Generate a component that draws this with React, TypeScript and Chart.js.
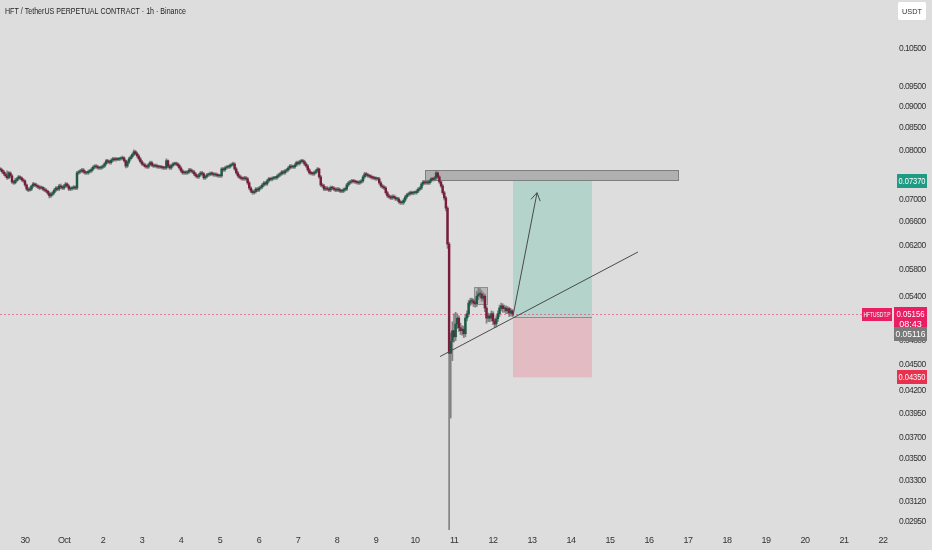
import React, { useEffect, useRef } from "react";
import { Chart, registerables } from "chart.js";

Chart.register(...registerables);

const TITLE = "HFT / TetherUS PERPETUAL CONTRACT · 1h · Binance";
const UNIT = "USDT";
const SYMBOL_TAG = "HFTUSDT.P";
const COUNTDOWN = "08:43";

// hourly candles; hours counted from 30 Sep 00:00 (first candle 29 Sep 09:00)
const START_HOUR = -15;

const OPEN = [
  0.0761, 0.0759, 0.0755, 0.0751, 0.0747, 0.0743, 0.0753, 0.0747, 0.0735, 0.0733,
  0.0738, 0.0741, 0.0745, 0.0743, 0.0739, 0.0737, 0.0729, 0.0721, 0.0719, 0.0721,
  0.0727, 0.0731, 0.0729, 0.0727, 0.0725, 0.0723, 0.0724, 0.0721, 0.0719, 0.0717,
  0.0713, 0.0708, 0.0711, 0.0714, 0.0719, 0.0723, 0.0721, 0.0727, 0.0725, 0.0723,
  0.0727, 0.0731, 0.0727, 0.0721, 0.0722, 0.0723, 0.0725, 0.0723, 0.0753, 0.0755,
  0.0757, 0.0759, 0.0755, 0.0753, 0.0753, 0.0756, 0.0757, 0.0761, 0.0765, 0.0767,
  0.0765, 0.0763, 0.0763, 0.0765, 0.0767, 0.0772, 0.0778, 0.0776, 0.0774, 0.0779,
  0.0782, 0.0780, 0.0782, 0.0781, 0.0782, 0.0783, 0.0784, 0.0778, 0.0767, 0.0775,
  0.0782, 0.0786, 0.0791, 0.0797, 0.0793, 0.0788, 0.0782, 0.0776, 0.0771, 0.0769,
  0.0766, 0.0765, 0.0770, 0.0774, 0.0769, 0.0767, 0.0768, 0.0766, 0.0765, 0.0765,
  0.0764, 0.0763, 0.0763, 0.0778, 0.0767, 0.0763, 0.0768, 0.0771, 0.0772, 0.0771,
  0.0768, 0.0763, 0.0757, 0.0753, 0.0754, 0.0753, 0.0755, 0.0759, 0.0757, 0.0755,
  0.0751, 0.0747, 0.0745, 0.0749, 0.0753, 0.0751, 0.0743, 0.0746, 0.0749, 0.0750,
  0.0752, 0.0751, 0.0749, 0.0750, 0.0748, 0.0747, 0.0747, 0.0761, 0.0759, 0.0763,
  0.0765, 0.0765, 0.0768, 0.0770, 0.0771, 0.0761, 0.0753, 0.0747, 0.0744, 0.0742,
  0.0741, 0.0743, 0.0741, 0.0733, 0.0723, 0.0717, 0.0714, 0.0716, 0.0721, 0.0719,
  0.0723, 0.0725, 0.0729, 0.0733, 0.0731, 0.0737, 0.0741, 0.0740, 0.0742, 0.0743,
  0.0743, 0.0746, 0.0749, 0.0751, 0.0755, 0.0753, 0.0757, 0.0759, 0.0763, 0.0767,
  0.0765, 0.0765, 0.0769, 0.0774, 0.0772, 0.0776, 0.0778, 0.0776, 0.0771, 0.0767,
  0.0759, 0.0753, 0.0752, 0.0751, 0.0754, 0.0757, 0.0761, 0.0745, 0.0729, 0.0727,
  0.0721, 0.0723, 0.0721, 0.0719, 0.0724, 0.0723, 0.0721, 0.0719, 0.0721, 0.0719,
  0.0717, 0.0717, 0.0720, 0.0721, 0.0729, 0.0733, 0.0735, 0.0737, 0.0736, 0.0735,
  0.0734, 0.0733, 0.0735, 0.0737, 0.0745, 0.0751, 0.0749, 0.0747, 0.0746, 0.0744,
  0.0743, 0.0742, 0.0741, 0.0741, 0.0733, 0.0727, 0.0725, 0.0723, 0.0714, 0.0708,
  0.0706, 0.0704, 0.0707, 0.0705, 0.0702, 0.0702, 0.0697, 0.0695, 0.0695, 0.0700,
  0.0706, 0.0710, 0.0712, 0.0714, 0.0713, 0.0714, 0.0714, 0.0717, 0.0721, 0.0723,
  0.0731, 0.0735, 0.0733, 0.0734, 0.0733, 0.0737, 0.0741, 0.0740, 0.0743, 0.0753,
  0.0745, 0.0735, 0.0727, 0.0714, 0.0704, 0.0685, 0.0622, 0.0464, 0.0479, 0.0493,
  0.0485, 0.0502, 0.0510, 0.0497, 0.0493, 0.0495, 0.0489, 0.0510, 0.0516, 0.0531,
  0.0534, 0.0534, 0.0531, 0.0530, 0.0541, 0.0544, 0.0544, 0.0538, 0.0541, 0.0524,
  0.0510, 0.0513, 0.0510, 0.0516, 0.0506, 0.0502, 0.0509, 0.0516, 0.0524, 0.0527,
  0.0523, 0.0524, 0.0520, 0.0523, 0.0517, 0.0520,
];

const HIGH = [
  0.0764, 0.0761, 0.0758, 0.0754, 0.0757, 0.0756, 0.0755, 0.0750, 0.0738, 0.0742,
  0.0744, 0.0748, 0.0747, 0.0745, 0.0742, 0.0739, 0.0731, 0.0724, 0.0725, 0.0729,
  0.0734, 0.0733, 0.0732, 0.0729, 0.0728, 0.0727, 0.0726, 0.0724, 0.0722, 0.0719,
  0.0716, 0.0714, 0.0717, 0.0722, 0.0726, 0.0726, 0.0730, 0.0731, 0.0728, 0.0730,
  0.0734, 0.0733, 0.0729, 0.0725, 0.0726, 0.0728, 0.0727, 0.0756, 0.0758, 0.0760,
  0.0762, 0.0762, 0.0758, 0.0756, 0.0759, 0.0760, 0.0764, 0.0768, 0.0770, 0.0770,
  0.0768, 0.0766, 0.0768, 0.0770, 0.0775, 0.0781, 0.0781, 0.0779, 0.0782, 0.0785,
  0.0785, 0.0785, 0.0784, 0.0785, 0.0786, 0.0788, 0.0786, 0.0780, 0.0778, 0.0785,
  0.0789, 0.0794, 0.0801, 0.0800, 0.0796, 0.0791, 0.0785, 0.0779, 0.0774, 0.0772,
  0.0769, 0.0773, 0.0777, 0.0777, 0.0772, 0.0771, 0.0771, 0.0769, 0.0768, 0.0768,
  0.0767, 0.0766, 0.0782, 0.0780, 0.0770, 0.0771, 0.0774, 0.0775, 0.0775, 0.0774,
  0.0771, 0.0766, 0.0760, 0.0757, 0.0757, 0.0758, 0.0762, 0.0762, 0.0760, 0.0758,
  0.0754, 0.0750, 0.0752, 0.0756, 0.0756, 0.0754, 0.0749, 0.0752, 0.0753, 0.0755,
  0.0755, 0.0754, 0.0753, 0.0753, 0.0751, 0.0750, 0.0764, 0.0764, 0.0766, 0.0768,
  0.0768, 0.0771, 0.0773, 0.0775, 0.0774, 0.0764, 0.0756, 0.0750, 0.0747, 0.0745,
  0.0746, 0.0746, 0.0744, 0.0736, 0.0726, 0.0720, 0.0719, 0.0724, 0.0724, 0.0726,
  0.0728, 0.0732, 0.0736, 0.0736, 0.0740, 0.0744, 0.0744, 0.0745, 0.0746, 0.0746,
  0.0749, 0.0752, 0.0754, 0.0758, 0.0758, 0.0760, 0.0762, 0.0766, 0.0770, 0.0770,
  0.0768, 0.0772, 0.0777, 0.0777, 0.0779, 0.0781, 0.0781, 0.0779, 0.0774, 0.0770,
  0.0762, 0.0756, 0.0755, 0.0757, 0.0760, 0.0764, 0.0763, 0.0748, 0.0732, 0.0730,
  0.0726, 0.0726, 0.0724, 0.0727, 0.0727, 0.0726, 0.0724, 0.0724, 0.0724, 0.0722,
  0.0720, 0.0723, 0.0724, 0.0732, 0.0736, 0.0738, 0.0740, 0.0740, 0.0739, 0.0738,
  0.0737, 0.0738, 0.0740, 0.0748, 0.0754, 0.0754, 0.0752, 0.0750, 0.0749, 0.0747,
  0.0746, 0.0745, 0.0744, 0.0744, 0.0736, 0.0730, 0.0728, 0.0726, 0.0717, 0.0711,
  0.0709, 0.0710, 0.0710, 0.0708, 0.0705, 0.0705, 0.0700, 0.0698, 0.0703, 0.0709,
  0.0713, 0.0715, 0.0717, 0.0717, 0.0717, 0.0717, 0.0720, 0.0724, 0.0726, 0.0734,
  0.0738, 0.0738, 0.0737, 0.0737, 0.0740, 0.0744, 0.0744, 0.0746, 0.0757, 0.0755,
  0.0748, 0.0738, 0.0730, 0.0717, 0.0707, 0.0688, 0.0625, 0.0490, 0.0505, 0.0516,
  0.0518, 0.0516, 0.0513, 0.0503, 0.0500, 0.0499, 0.0514, 0.0520, 0.0535, 0.0538,
  0.0538, 0.0537, 0.0536, 0.0548, 0.0553, 0.0552, 0.0549, 0.0546, 0.0544, 0.0527,
  0.0517, 0.0516, 0.0520, 0.0519, 0.0509, 0.0513, 0.0520, 0.0528, 0.0531, 0.0530,
  0.0528, 0.0527, 0.0526, 0.0525, 0.0523, 0.0522,
];

const LOW = [
  0.0756, 0.0752, 0.0748, 0.0744, 0.0740, 0.0741, 0.0744, 0.0732, 0.0730, 0.0731,
  0.0735, 0.0738, 0.0740, 0.0736, 0.0734, 0.0726, 0.0718, 0.0716, 0.0717, 0.0718,
  0.0724, 0.0726, 0.0724, 0.0722, 0.0720, 0.0721, 0.0718, 0.0716, 0.0714, 0.0710,
  0.0704, 0.0705, 0.0708, 0.0711, 0.0716, 0.0718, 0.0718, 0.0722, 0.0720, 0.0720,
  0.0724, 0.0724, 0.0718, 0.0718, 0.0719, 0.0720, 0.0720, 0.0720, 0.0750, 0.0752,
  0.0754, 0.0752, 0.0750, 0.0750, 0.0750, 0.0753, 0.0754, 0.0758, 0.0762, 0.0762,
  0.0760, 0.0760, 0.0760, 0.0762, 0.0764, 0.0769, 0.0773, 0.0771, 0.0771, 0.0776,
  0.0777, 0.0777, 0.0778, 0.0778, 0.0779, 0.0780, 0.0775, 0.0763, 0.0764, 0.0772,
  0.0779, 0.0783, 0.0788, 0.0790, 0.0785, 0.0779, 0.0773, 0.0768, 0.0766, 0.0763,
  0.0762, 0.0762, 0.0767, 0.0766, 0.0764, 0.0764, 0.0763, 0.0762, 0.0762, 0.0761,
  0.0760, 0.0760, 0.0760, 0.0764, 0.0760, 0.0760, 0.0765, 0.0768, 0.0768, 0.0765,
  0.0760, 0.0754, 0.0750, 0.0750, 0.0750, 0.0750, 0.0752, 0.0754, 0.0752, 0.0748,
  0.0744, 0.0742, 0.0742, 0.0746, 0.0748, 0.0740, 0.0740, 0.0743, 0.0746, 0.0747,
  0.0748, 0.0746, 0.0746, 0.0745, 0.0744, 0.0744, 0.0744, 0.0756, 0.0756, 0.0760,
  0.0762, 0.0762, 0.0765, 0.0767, 0.0758, 0.0750, 0.0744, 0.0741, 0.0739, 0.0738,
  0.0738, 0.0738, 0.0730, 0.0720, 0.0714, 0.0711, 0.0711, 0.0713, 0.0716, 0.0716,
  0.0720, 0.0722, 0.0726, 0.0728, 0.0728, 0.0734, 0.0737, 0.0737, 0.0739, 0.0740,
  0.0740, 0.0743, 0.0746, 0.0748, 0.0750, 0.0750, 0.0754, 0.0756, 0.0760, 0.0762,
  0.0762, 0.0762, 0.0766, 0.0769, 0.0769, 0.0773, 0.0773, 0.0768, 0.0764, 0.0756,
  0.0750, 0.0749, 0.0748, 0.0748, 0.0751, 0.0754, 0.0742, 0.0726, 0.0724, 0.0718,
  0.0718, 0.0718, 0.0716, 0.0716, 0.0720, 0.0718, 0.0716, 0.0716, 0.0716, 0.0714,
  0.0714, 0.0714, 0.0717, 0.0718, 0.0726, 0.0730, 0.0732, 0.0733, 0.0732, 0.0731,
  0.0730, 0.0730, 0.0732, 0.0734, 0.0742, 0.0746, 0.0744, 0.0743, 0.0741, 0.0740,
  0.0739, 0.0738, 0.0738, 0.0730, 0.0724, 0.0722, 0.0720, 0.0711, 0.0705, 0.0703,
  0.0701, 0.0701, 0.0702, 0.0699, 0.0699, 0.0694, 0.0692, 0.0692, 0.0692, 0.0697,
  0.0703, 0.0707, 0.0709, 0.0710, 0.0710, 0.0711, 0.0711, 0.0714, 0.0718, 0.0720,
  0.0728, 0.0730, 0.0730, 0.0730, 0.0730, 0.0734, 0.0737, 0.0737, 0.0740, 0.0742,
  0.0732, 0.0724, 0.0711, 0.0700, 0.0680, 0.0615, 0.0285, 0.0390, 0.0455, 0.0478,
  0.0480, 0.0496, 0.0492, 0.0488, 0.0487, 0.0484, 0.0485, 0.0506, 0.0512, 0.0527,
  0.0529, 0.0526, 0.0525, 0.0526, 0.0536, 0.0539, 0.0534, 0.0534, 0.0519, 0.0503,
  0.0505, 0.0505, 0.0506, 0.0501, 0.0497, 0.0498, 0.0505, 0.0512, 0.0520, 0.0518,
  0.0518, 0.0516, 0.0516, 0.0512, 0.0513, 0.0512,
];

const CLOSE = [
  0.0759, 0.0755, 0.0751, 0.0747, 0.0743, 0.0753, 0.0747, 0.0735, 0.0733, 0.0738,
  0.0741, 0.0745, 0.0743, 0.0739, 0.0737, 0.0729, 0.0721, 0.0719, 0.0721, 0.0727,
  0.0731, 0.0729, 0.0727, 0.0725, 0.0723, 0.0724, 0.0721, 0.0719, 0.0717, 0.0713,
  0.0708, 0.0711, 0.0714, 0.0719, 0.0723, 0.0721, 0.0727, 0.0725, 0.0723, 0.0727,
  0.0731, 0.0727, 0.0721, 0.0722, 0.0723, 0.0725, 0.0723, 0.0753, 0.0755, 0.0757,
  0.0759, 0.0755, 0.0753, 0.0753, 0.0756, 0.0757, 0.0761, 0.0765, 0.0767, 0.0765,
  0.0763, 0.0763, 0.0765, 0.0767, 0.0772, 0.0778, 0.0776, 0.0774, 0.0779, 0.0782,
  0.0780, 0.0782, 0.0781, 0.0782, 0.0783, 0.0784, 0.0778, 0.0767, 0.0775, 0.0782,
  0.0786, 0.0791, 0.0797, 0.0793, 0.0788, 0.0782, 0.0776, 0.0771, 0.0769, 0.0766,
  0.0765, 0.0770, 0.0774, 0.0769, 0.0767, 0.0768, 0.0766, 0.0765, 0.0765, 0.0764,
  0.0763, 0.0763, 0.0778, 0.0767, 0.0763, 0.0768, 0.0771, 0.0772, 0.0771, 0.0768,
  0.0763, 0.0757, 0.0753, 0.0754, 0.0753, 0.0755, 0.0759, 0.0757, 0.0755, 0.0751,
  0.0747, 0.0745, 0.0749, 0.0753, 0.0751, 0.0743, 0.0746, 0.0749, 0.0750, 0.0752,
  0.0751, 0.0749, 0.0750, 0.0748, 0.0747, 0.0747, 0.0761, 0.0759, 0.0763, 0.0765,
  0.0765, 0.0768, 0.0770, 0.0771, 0.0761, 0.0753, 0.0747, 0.0744, 0.0742, 0.0741,
  0.0743, 0.0741, 0.0733, 0.0723, 0.0717, 0.0714, 0.0716, 0.0721, 0.0719, 0.0723,
  0.0725, 0.0729, 0.0733, 0.0731, 0.0737, 0.0741, 0.0740, 0.0742, 0.0743, 0.0743,
  0.0746, 0.0749, 0.0751, 0.0755, 0.0753, 0.0757, 0.0759, 0.0763, 0.0767, 0.0765,
  0.0765, 0.0769, 0.0774, 0.0772, 0.0776, 0.0778, 0.0776, 0.0771, 0.0767, 0.0759,
  0.0753, 0.0752, 0.0751, 0.0754, 0.0757, 0.0761, 0.0745, 0.0729, 0.0727, 0.0721,
  0.0723, 0.0721, 0.0719, 0.0724, 0.0723, 0.0721, 0.0719, 0.0721, 0.0719, 0.0717,
  0.0717, 0.0720, 0.0721, 0.0729, 0.0733, 0.0735, 0.0737, 0.0736, 0.0735, 0.0734,
  0.0733, 0.0735, 0.0737, 0.0745, 0.0751, 0.0749, 0.0747, 0.0746, 0.0744, 0.0743,
  0.0742, 0.0741, 0.0741, 0.0733, 0.0727, 0.0725, 0.0723, 0.0714, 0.0708, 0.0706,
  0.0704, 0.0707, 0.0705, 0.0702, 0.0702, 0.0697, 0.0695, 0.0695, 0.0700, 0.0706,
  0.0710, 0.0712, 0.0714, 0.0713, 0.0714, 0.0714, 0.0717, 0.0721, 0.0723, 0.0731,
  0.0735, 0.0733, 0.0734, 0.0733, 0.0737, 0.0741, 0.0740, 0.0743, 0.0753, 0.0745,
  0.0735, 0.0727, 0.0714, 0.0704, 0.0685, 0.0622, 0.0464, 0.0479, 0.0493, 0.0485,
  0.0502, 0.0510, 0.0497, 0.0493, 0.0495, 0.0489, 0.0510, 0.0516, 0.0531, 0.0534,
  0.0534, 0.0531, 0.0530, 0.0541, 0.0544, 0.0544, 0.0538, 0.0541, 0.0524, 0.0510,
  0.0513, 0.0510, 0.0516, 0.0506, 0.0502, 0.0509, 0.0516, 0.0524, 0.0527, 0.0523,
  0.0524, 0.0520, 0.0523, 0.0517, 0.0520, 0.05156,
];

// time axis labels, one per day starting 30 Sep (hour 0, 24, 48, ...)
const DAY_LABELS = ["30", "Oct", "2", "3", "4", "5", "6", "7", "8", "9", "10", "11", "12", "13", "14", "15", "16", "17", "18", "19", "20", "21", "22"];
const PRICE_TICKS = [0.105, 0.095, 0.09, 0.085, 0.08, 0.07, 0.066, 0.062, 0.058, 0.054, 0.048, 0.045, 0.042, 0.0395, 0.037, 0.035, 0.033, 0.0312, 0.0295];
const X_RANGE = [-15.385, 532.3];
const Y_RANGE = [0.02888, 0.11975];

// drawings: [fromHour, toHour, lowPrice, highPrice]
const RESISTANCE_ZONE = [246.2, 401.8, 0.0737, 0.0758];
const TARGET_ZONE = [300.3, 348.9, 0.05116, 0.0737];
const STOP_ZONE = [300.3, 348.9, 0.0435, 0.05116];
const TOP_MARK = [276.3, 284.3, 0.053, 0.0554];
// lines: [hour1, price1, hour2, price2]
const TRENDLINE = [255.4, 0.046, 377.2, 0.0609];
const ARROW = [300.3, 0.0513, 315.1, 0.0714];

const LAST_PRICE = 0.05156;
const ENTRY_PRICE = 0.05116;
const TARGET_PRICE = 0.0737;
const STOP_PRICE = 0.0435;

const BG = "#dddddd";
const UP = "#1d5a48";
const DOWN = "#7a1d3d";
const WICK = "rgba(120,120,120,0.9)";
const FONT = '"Liberation Sans", Arial, sans-serif';

export default function App() {
  const ref = useRef<HTMLCanvasElement | null>(null);

  useEffect(() => {
    const canvas = ref.current;
    if (!canvas) return;
    const xs = CLOSE.map((_, i) => START_HOUR + i);

    const overlay = {
      id: "overlay",
      beforeDraw(chart: any) {
        // condensed look for axis text
        chart.ctx.letterSpacing = "-0.6px";
      },
      beforeDatasetsDraw(chart: any) {
        const { ctx, chartArea: a, scales } = chart;
        const px = (h: number) => scales.x.getPixelForValue(h);
        const py = (p: number) => scales.y.getPixelForValue(p);
        const box = (z: number[], fill: string, stroke?: string) => {
          const x0 = px(z[0]), x1 = px(z[1]), y0 = py(z[3]), y1 = py(z[2]);
          ctx.fillStyle = fill;
          ctx.fillRect(x0, y0, x1 - x0, y1 - y0);
          if (stroke) {
            ctx.strokeStyle = stroke;
            ctx.lineWidth = 1;
            ctx.strokeRect(Math.round(x0) + 0.5, Math.round(y0) + 0.5, Math.round(x1 - x0), Math.round(y1 - y0));
          }
        };
        ctx.save();
        ctx.beginPath();
        ctx.rect(a.left, a.top, a.right - a.left, a.bottom - a.top);
        ctx.clip();
        box(TARGET_ZONE, "#b4d3cb");
        box(STOP_ZONE, "#e2bcc2");
        ctx.strokeStyle = "#8c8c8c";
        ctx.lineWidth = 1;
        ctx.beginPath();
        const ey = Math.round(py(ENTRY_PRICE)) + 0.5;
        ctx.moveTo(px(TARGET_ZONE[0]), ey);
        ctx.lineTo(px(TARGET_ZONE[1]), ey);
        ctx.stroke();
        ctx.strokeStyle = "rgba(233,30,99,0.5)";
        ctx.setLineDash([2, 2]);
        const ly = Math.round(py(LAST_PRICE)) + 0.5;
        ctx.beginPath();
        ctx.moveTo(a.left, ly);
        ctx.lineTo(a.right, ly);
        ctx.stroke();
        ctx.setLineDash([]);
        box(RESISTANCE_ZONE, "rgba(160,160,160,0.75)", "#7e7e7e");
        box(TOP_MARK, "rgba(160,160,160,0.6)", "#8e8e8e");
        ctx.restore();
      },
      afterDatasetsDraw(chart: any) {
        const { ctx, scales } = chart;
        const px = (h: number) => scales.x.getPixelForValue(h);
        const py = (p: number) => scales.y.getPixelForValue(p);
        ctx.save();
        ctx.strokeStyle = "#4a4a4a";
        ctx.lineWidth = 1;
        ctx.beginPath();
        ctx.moveTo(px(TRENDLINE[0]), py(TRENDLINE[1]));
        ctx.lineTo(px(TRENDLINE[2]), py(TRENDLINE[3]));
        ctx.stroke();
        const ax0 = px(ARROW[0]), ay0 = py(ARROW[1]), ax1 = px(ARROW[2]), ay1 = py(ARROW[3]);
        ctx.beginPath();
        ctx.moveTo(ax0, ay0);
        ctx.lineTo(ax1, ay1);
        const ang = Math.atan2(ay1 - ay0, ax1 - ax0);
        const head = 9;
        ctx.moveTo(ax1 + head * Math.cos(ang + Math.PI - 0.55), ay1 + head * Math.sin(ang + Math.PI - 0.55));
        ctx.lineTo(ax1, ay1);
        ctx.lineTo(ax1 + head * Math.cos(ang + Math.PI + 0.55), ay1 + head * Math.sin(ang + Math.PI + 0.55));
        ctx.stroke();
        ctx.restore();
      },
      afterDraw(chart: any) {
        const { ctx, chartArea: a, scales } = chart;
        const py = (p: number) => scales.y.getPixelForValue(p);
        ctx.save();
        ctx.letterSpacing = "0px";
        const tag = (text: string, yc: number, x0: number, x1: number, bg: string, h = 14, size = 9) => {
          ctx.fillStyle = bg;
          ctx.fillRect(x0, Math.round(yc - h / 2), x1 - x0, h);
          ctx.fillStyle = "#ffffff";
          ctx.font = `${size}px ${FONT}`;
          ctx.textAlign = "center";
          ctx.textBaseline = "middle";
          ctx.fillText(text, (x0 + x1) / 2, yc + 0.5, x1 - x0 - 3);
        };
        const r = a.right;
        tag(TARGET_PRICE.toFixed(5), py(TARGET_PRICE), r + 7, r + 37, "#1f9a83");
        tag(STOP_PRICE.toFixed(5), py(STOP_PRICE), r + 7, r + 37, "#e8304f");
        const yl = py(LAST_PRICE);
        ctx.fillStyle = "#e91e63";
        ctx.fillRect(r + 4, Math.round(yl - 7), 33, 24);
        ctx.fillStyle = "#ffffff";
        ctx.font = `9px ${FONT}`;
        ctx.textAlign = "center";
        ctx.textBaseline = "middle";
        ctx.fillText(LAST_PRICE.toFixed(5), r + 20.5, yl + 0.5, 28);
        ctx.fillText(COUNTDOWN, r + 20.5, yl + 11, 28);
        tag(SYMBOL_TAG, yl, r - 28, r + 2, "#e91e63", 13, 8);
        tag(ENTRY_PRICE.toFixed(5), yl + 20, r + 4, r + 37, "#7a7a7a");
        ctx.fillStyle = "#1e1e1e";
        ctx.font = `9.5px ${FONT}`;
        ctx.textAlign = "left";
        ctx.textBaseline = "middle";
        ctx.fillText(TITLE, 5, 11, 181);
        ctx.fillStyle = "#ffffff";
        ctx.beginPath();
        ctx.roundRect(r + 8, 2, 28, 18, 2);
        ctx.fill();
        ctx.fillStyle = "#333333";
        ctx.font = `8px ${FONT}`;
        ctx.textAlign = "center";
        ctx.fillText(UNIT, r + 22, 11.5, 20);
        ctx.restore();
      },
    };

    const chart = new Chart(canvas, {
      type: "bar",
      data: {
        datasets: [
          {
            label: "wick",
            data: xs.map((x, i) => ({ x, y: [LOW[i], HIGH[i]] })),
            backgroundColor: WICK,
            barThickness: 1,
            grouped: false,
            order: 2,
          },
          {
            label: "body",
            data: xs.map((x, i) => ({ x, y: [OPEN[i], CLOSE[i]] })),
            backgroundColor: CLOSE.map((c, i) => (c >= OPEN[i] ? UP : DOWN)),
            barThickness: 1.8,
            minBarLength: 1,
            grouped: false,
            order: 1,
          },
        ],
      } as any,
      options: {
        responsive: false,
        animation: false,
        devicePixelRatio: 1,
        layout: { padding: 0 },
        plugins: { legend: { display: false }, tooltip: { enabled: false }, title: { display: false } },
        scales: {
          x: {
            type: "linear",
            min: X_RANGE[0],
            max: X_RANGE[1],
            bounds: "data",
            offset: false,
            grid: { display: false, drawTicks: false },
            border: { display: false },
            afterBuildTicks: (s: any) => {
              s.ticks = DAY_LABELS.map((_, k) => ({ value: k * 24 }));
            },
            afterFit: (s: any) => {
              s.height = 20;
              s.paddingLeft = 0;
              s.paddingRight = 0;
              s.paddingTop = 0;
              s.paddingBottom = 0;
            },
            ticks: {
              autoSkip: false,
              maxRotation: 0,
              padding: 5,
              color: "#333333",
              font: { family: FONT, size: 9 },
              callback: (_v: any, i: number) => DAY_LABELS[i],
            },
          },
          y: {
            type: "logarithmic",
            position: "right",
            min: Y_RANGE[0],
            max: Y_RANGE[1],
            bounds: "data",
            grid: { display: false, drawTicks: false },
            border: { display: false },
            afterBuildTicks: (s: any) => {
              s.ticks = PRICE_TICKS.map((v) => ({ value: v }));
            },
            afterFit: (s: any) => {
              s.width = 42;
              s.paddingLeft = 0;
              s.paddingRight = 0;
              s.paddingTop = 0;
              s.paddingBottom = 0;
            },
            ticks: {
              autoSkip: false,
              padding: 9,
              color: "#333333",
              font: { family: FONT, size: 8.5 },
              callback: (v: any) => Number(v).toFixed(5),
            },
          },
        },
      } as any,
      plugins: [overlay],
    });
    return () => chart.destroy();
  }, []);

  return (
    <div style={{ position: "fixed", left: 0, top: 0, width: 932, height: 550, background: BG }}>
      <canvas ref={ref} width={932} height={550} style={{ display: "block" }} />
    </div>
  );
}
